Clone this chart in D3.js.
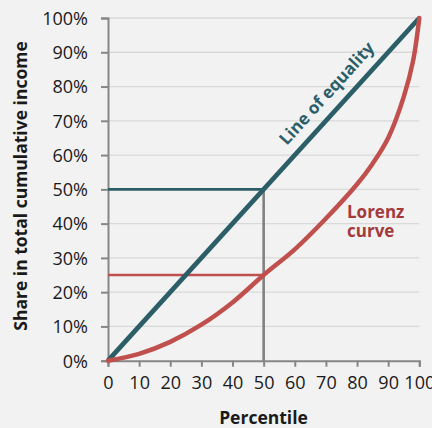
<!DOCTYPE html>
<html lang="en">
    <head>
        <meta charset="utf-8" />
        <title>Lorenz curve</title>
        <script src="https://d3js.org/d3.v7.min.js"></script>
        <style>
            html, body { margin:0; padding:0; overflow:hidden; background-color: #f2f2f2 }
            svg { display:block }
            text { font-family: "Open Sans", sans-serif; }
        </style>
    </head>
    <body>
        <svg id="svg" width="432" height="428"></svg>
        <script>

            // percentiles and cumulative share (%)
            let percentile = [0, 10, 20, 30, 40, 50, 60, 70, 80, 85, 90, 95, 98, 100];
            let lorenzShare = [0, 2, 5.5, 10.5, 17, 25, 32.5, 41.5, 51.5, 57.5, 65, 77, 87.5, 100];
            let equality = [0, 100];

            let xTicks = [0, 10, 20, 30, 40, 50, 60, 70, 80, 90, 100];
            let yTicks = [0, 10, 20, 30, 40, 50, 60, 70, 80, 90, 100];

            let teal = "#2b5e67";
            let red = "#c0504d";

            let svg = d3.select("svg");

            let xscale = d3.scaleLinear()
                .domain([0, 100])
                .range([108, 419.3]);

            let yscale = d3.scaleLinear()
                .domain([0, 100])
                .range([360.7, 18]);

            // gridlines
            svg.append("g")
                .selectAll("line")
                .data(yTicks.filter(d => d > 0))
                .join("line")
                .attr("x1", xscale(0))
                .attr("x2", xscale(100))
                .attr("y1", d => yscale(d))
                .attr("y2", d => yscale(d))
                .attr("stroke", "#d9d9d9")
                .attr("stroke-width", 1.3);

            // axes
            let yAxis = svg.append("g")
                .attr("transform", "translate(" + xscale(0) + ",0)")
                .call(d3.axisLeft(yscale).tickValues(yTicks).tickSize(7).tickPadding(13).tickFormat(d => d + "%"));

            let xAxis = svg.append("g")
                .attr("transform", "translate(0," + yscale(0) + ")")
                .call(d3.axisBottom(xscale).tickValues(xTicks).tickSize(6).tickPadding(10).tickFormat(d3.format("d")));

            [xAxis, yAxis].forEach(a => {
                a.select(".domain").attr("stroke", "#868686").attr("stroke-width", 2);
                a.selectAll(".tick line").attr("stroke", "#868686").attr("stroke-width", 2);
                a.selectAll(".tick text")
                    .attr("fill", "#1a1a1a")
                    .style("font-size", "18px")
                    .style("font-family", "'Open Sans', sans-serif");
            });
            yAxis.selectAll(".tick text").attr("dy", "0.35em");

            // reference lines at the median
            svg.append("line")
                .attr("x1", xscale(0)).attr("x2", xscale(50))
                .attr("y1", yscale(50)).attr("y2", yscale(50))
                .attr("stroke", teal).attr("stroke-width", 2.6);

            svg.append("line")
                .attr("x1", xscale(0)).attr("x2", xscale(50))
                .attr("y1", yscale(25)).attr("y2", yscale(25))
                .attr("stroke", red).attr("stroke-width", 2.6);

            svg.append("line")
                .attr("x1", xscale(50)).attr("x2", xscale(50))
                .attr("y1", yscale(0)).attr("y2", yscale(50))
                .attr("stroke", "#808080").attr("stroke-width", 2.6);

            // line of equality
            let eqLine = d3.line()
                .x(d => xscale(d))
                .y(d => yscale(d));

            svg.append("path")
                .attr("d", eqLine(equality))
                .attr("fill", "none")
                .attr("stroke", teal)
                .attr("stroke-width", 4.8);

            // lorenz curve
            let lorenz = d3.line()
                .curve(d3.curveCatmullRom.alpha(0.5))
                .x((d, i) => xscale(percentile[i]))
                .y(d => yscale(d));

            svg.append("path")
                .attr("d", lorenz(lorenzShare))
                .attr("fill", "none")
                .attr("stroke", red)
                .attr("stroke-width", 4.5)
                .attr("stroke-linecap", "round");

            // labels
            let angle = Math.atan2(yscale(100) - yscale(0), xscale(100) - xscale(0)) * 180 / Math.PI;

            svg.append("text")
                .attr("transform", "translate(" + xscale(74.5) + "," + yscale(74.5) + ") rotate(" + angle + ")")
                .attr("y", -12)
                .attr("text-anchor", "middle")
                .attr("fill", teal)
                .style("font-size", "17px")
                .style("font-weight", "bold")
                .text("Line of equality");

            let lz = svg.append("text")
                .attr("fill", "#a33a3b")
                .style("font-size", "17px")
                .style("font-weight", "bold");
            lz.append("tspan").attr("x", 347).attr("y", 217.5).text("Lorenz");
            lz.append("tspan").attr("x", 347).attr("y", 237).text("curve");

            svg.append("text")
                .attr("x", 263.5)
                .attr("y", 424)
                .attr("text-anchor", "middle")
                .attr("fill", "#1a1a1a")
                .style("font-size", "17.5px")
                .style("font-weight", "bold")
                .text("Percentile");

            svg.append("text")
                .attr("transform", "translate(27,186) rotate(-90)")
                .attr("text-anchor", "middle")
                .attr("fill", "#1a1a1a")
                .style("font-size", "17.5px")
                .style("font-weight", "bold")
                .text("Share in total cumulative income");

        </script>
    </body>
</html>
